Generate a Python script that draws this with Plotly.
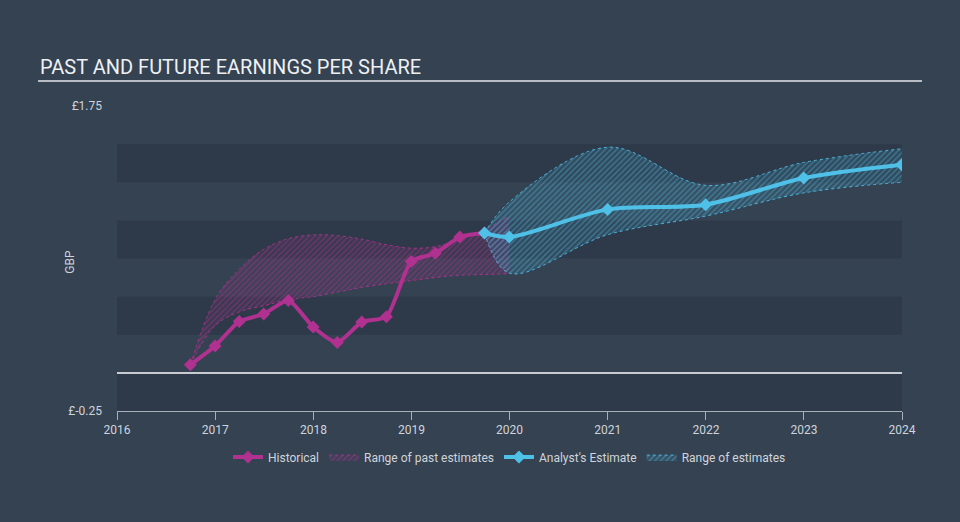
import plotly.graph_objects as go

# ---------------- data ----------------
hist_dates = ["2016-09-30", "2016-12-31", "2017-03-31", "2017-06-30", "2017-09-30",
              "2017-12-31", "2018-03-31", "2018-06-30", "2018-09-30", "2018-12-31",
              "2019-03-31", "2019-06-30", "2019-09-30"]
hist_eps = [0.054, 0.177, 0.337, 0.386, 0.474, 0.301, 0.200, 0.333, 0.368, 0.731,
            0.784, 0.891, 0.917]

past_range_dates = ["2016-09-30", "2016-12-31", "2017-03-31", "2017-06-30", "2017-09-30",
                    "2017-12-31", "2018-03-31", "2018-06-30", "2018-09-30", "2018-12-31",
                    "2019-03-31", "2019-06-30", "2019-09-30", "2019-12-31"]
past_upper = [0.054, 0.48, 0.68, 0.81, 0.88, 0.905, 0.90, 0.877, 0.84, 0.818,
              0.828, 0.877, 0.94, 1.03]
past_lower = [0.054, 0.31, 0.40, 0.44, 0.480, 0.50, 0.53, 0.56, 0.585, 0.605,
              0.625, 0.64, 0.645, 0.65]

est_dates = ["2019-09-30", "2019-12-31", "2020-12-31", "2021-12-31", "2022-12-31", "2023-12-31"]
est_eps = [0.917, 0.891, 1.072, 1.103, 1.278, 1.365]
est_upper = [0.917, 1.12, 1.48, 1.23, 1.38, 1.47]
est_lower = [0.917, 0.654, 0.906, 1.028, 1.18, 1.25]

year_ticks = ["2016", "2017", "2018", "2019", "2020", "2021", "2022", "2023", "2024"]
y_ticks = [-0.25, 1.75]
y_tick_text = ["£-0.25", "£1.75"]
band_edges = [(-0.25, 0.0), (0.25, 0.5), (0.75, 1.0), (1.25, 1.5)]

# ---------------- style ----------------
BG = "#344252"
BAND = "#2e3a4a"
MAG = "#b0318f"
BLUE = "#4fc1e9"
TXT = "#d0d4da"
FONT = "Roboto"

fig = go.Figure()

# past estimates range
fig.add_trace(go.Scatter(
    x=past_range_dates, y=past_lower, mode="lines",
    line=dict(color="rgba(176,49,143,0.85)", width=1, dash="dot", shape="spline", smoothing=1.0),
    showlegend=False, hoverinfo="skip", legendgroup="past"))
fig.add_trace(go.Scatter(
    x=past_range_dates, y=past_upper, mode="lines", name="Range of past estimates",
    line=dict(color="rgba(176,49,143,0.85)", width=1, dash="dot", shape="spline", smoothing=1.0),
    fill="tonexty", fillcolor="rgba(176,49,143,0.12)",
    fillpattern=dict(shape="/", fgcolor="rgba(176,49,143,0.85)", bgcolor="rgba(176,49,143,0.10)",
                     size=4, solidity=0.35),
    hoverinfo="skip", legendgroup="past"))

# estimates range
fig.add_trace(go.Scatter(
    x=est_dates, y=est_lower, mode="lines",
    line=dict(color="rgba(79,193,233,0.85)", width=1, dash="dot", shape="spline", smoothing=1.0),
    showlegend=False, hoverinfo="skip", legendgroup="est"))
fig.add_trace(go.Scatter(
    x=est_dates, y=est_upper, mode="lines", name="Range of estimates",
    line=dict(color="rgba(79,193,233,0.85)", width=1, dash="dot", shape="spline", smoothing=1.0),
    fill="tonexty", fillcolor="rgba(79,193,233,0.12)",
    fillpattern=dict(shape="/", fgcolor="rgba(79,193,233,0.8)", bgcolor="rgba(79,193,233,0.12)",
                     size=4, solidity=0.35),
    hoverinfo="skip", legendgroup="est"))

# historical
fig.add_trace(go.Scatter(
    x=hist_dates, y=hist_eps, mode="lines+markers", name="Historical",
    line=dict(color=MAG, width=4, shape="spline", smoothing=0.6),
    marker=dict(symbol="diamond", size=10, color=MAG)))

# analyst estimate
fig.add_trace(go.Scatter(
    x=est_dates, y=est_eps, mode="lines+markers", name="Analyst's Estimate",
    line=dict(color=BLUE, width=4, shape="spline", smoothing=0.8),
    marker=dict(symbol="diamond", size=10, color=BLUE)))

# legend order: Historical, Range of past, Analyst's, Range of estimates
fig.data[4].legendrank = 1
fig.data[1].legendrank = 2
fig.data[5].legendrank = 3
fig.data[3].legendrank = 4

shapes = []
for lo, hi in band_edges:
    shapes.append(dict(type="rect", xref="paper", yref="y", x0=0, x1=1, y0=lo, y1=hi,
                       fillcolor=BAND, line=dict(width=0), layer="below"))
# title underline (plot area spans 106..411 px)
shapes.append(dict(type="line", xref="paper", yref="paper", x0=-0.1006, x1=1.0255,
                   y0=1.082, y1=1.082, line=dict(color="#b8bcc4", width=2)))

fig.update_layout(
    width=960, height=522,
    paper_bgcolor=BG, plot_bgcolor=BG,
    margin=dict(l=117, r=58, t=106, b=111),
    font=dict(family=FONT, color=TXT, size=12),
    shapes=shapes,
    showlegend=True,
    legend=dict(orientation="h", x=0.5, xanchor="center", y=-0.151, yanchor="middle",
                font=dict(size=12, color=TXT), bgcolor="rgba(0,0,0,0)",
                itemwidth=30, tracegroupgap=0),
    annotations=[
        dict(text="PAST AND FUTURE EARNINGS PER SHARE", xref="paper", yref="paper",
             x=-0.1006, y=1.081, xanchor="left", yanchor="bottom", showarrow=False,
             font=dict(size=20, color="#eef0f2", family=FONT)),
        dict(text="GBP", xref="paper", yref="paper", x=-0.061, y=0.49, textangle=-90,
             showarrow=False, xanchor="center", yanchor="middle",
             font=dict(size=12, color=TXT, family=FONT)),
    ],
    hovermode=False,
)

fig.update_xaxes(
    type="date", range=["2016-01-01", "2024-01-01"],
    tickvals=[y + "-01-01" for y in year_ticks], ticktext=year_ticks,
    showgrid=False, zeroline=False,
    showline=True, linecolor="#aab0b8", linewidth=1,
    ticks="outside", ticklen=8, tickcolor="#aab0b8", tickwidth=1,
    tickfont=dict(size=12, color=TXT),
)
fig.update_yaxes(
    range=[-0.25, 1.75], tickvals=y_ticks, ticktext=y_tick_text,
    showgrid=False, zeroline=True, zerolinecolor="#c8ccd2", zerolinewidth=1.5,
    showline=False, ticks="", ticklabelstandoff=14, tickfont=dict(size=12, color=TXT),
)

fig.write_html(
    "out.html",
    config={"displayModeBar": False},
    post_script="document.body.style.margin='0';document.body.style.padding='0';"
                "document.body.style.background='#344252';",
)
